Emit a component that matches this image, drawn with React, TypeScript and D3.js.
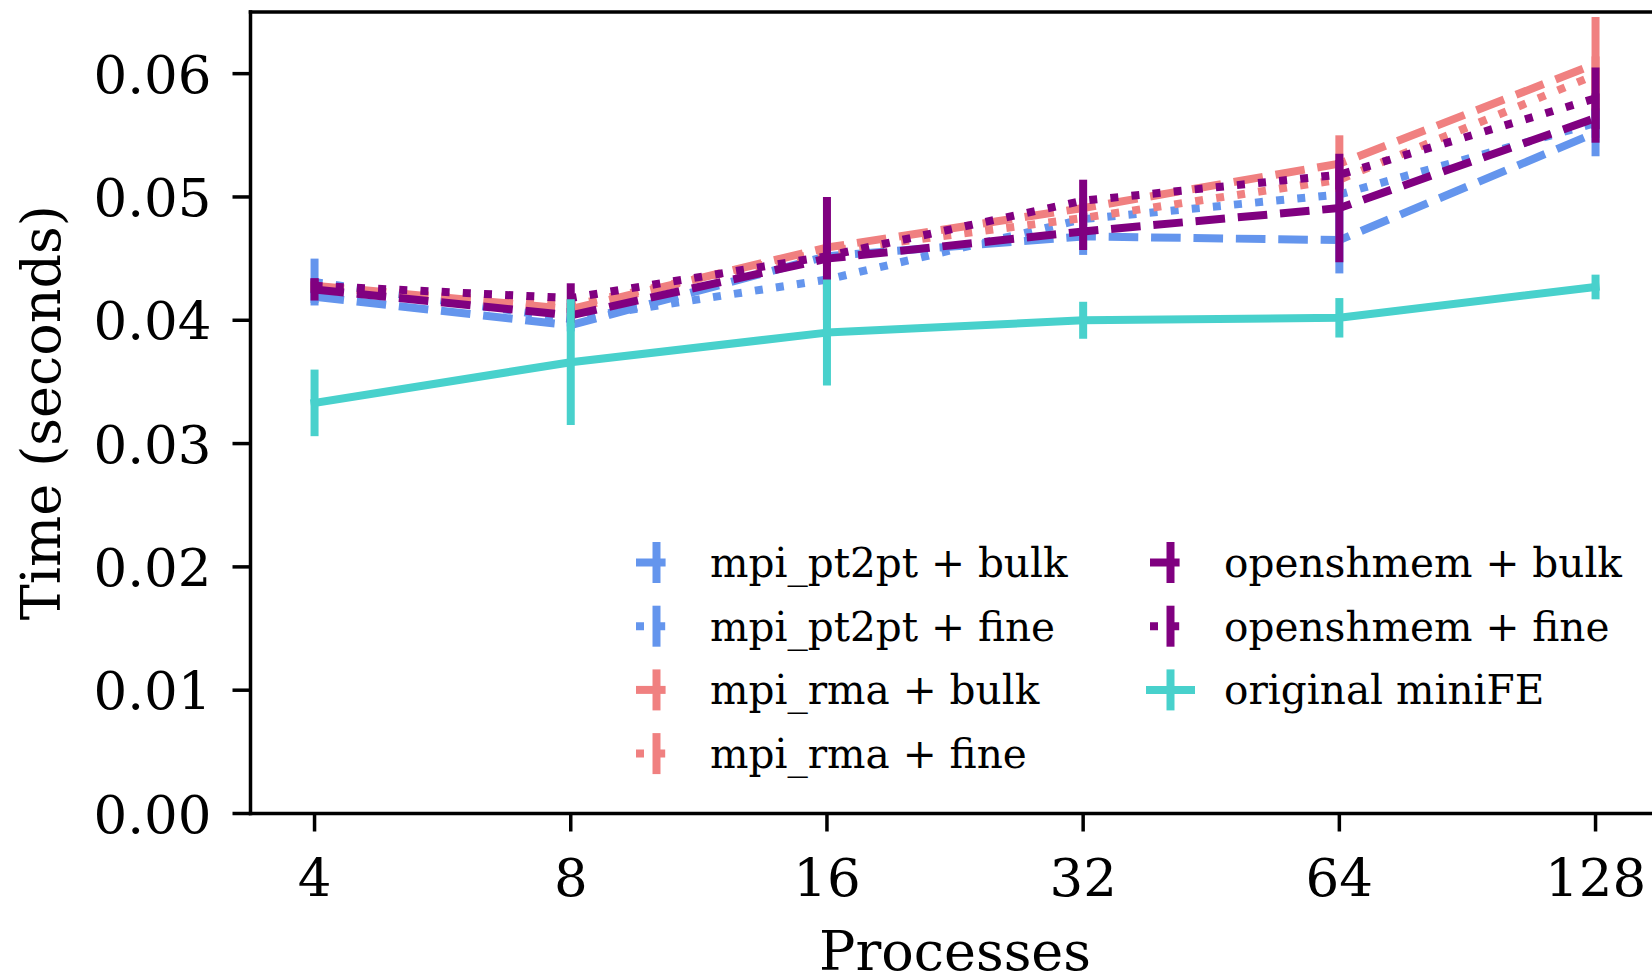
import React from 'react';
import * as d3 from 'd3';

const procs = [4, 8, 16, 32, 64, 128];

const pt2ptBulk = [0.0419, 0.0396, 0.0452, 0.0468, 0.0465, 0.0552];
const pt2ptBulkErr = [0.0005, 0.0005, 0.0007, 0.0015, 0.0027, 0.0019];
const pt2ptFine = [0.0431, 0.0401, 0.0433, 0.0482, 0.0502, 0.056];
const pt2ptFineErr = [0.0019, 0.0006, 0.0008, 0.0006, 0.001, 0.0012];
const rmaBulk = [0.0428, 0.0409, 0.0459, 0.0491, 0.0527, 0.0608];
const rmaBulkErr = [0.0004, 0.0005, 0.0006, 0.0008, 0.0023, 0.0038];
const rmaFine = [0.0427, 0.0412, 0.0456, 0.0483, 0.0514, 0.0599];
const rmaFineErr = [0.0004, 0.0005, 0.0006, 0.0006, 0.0008, 0.0015];
const shmemBulk = [0.0425, 0.0404, 0.045, 0.0472, 0.0491, 0.0564];
const shmemBulkErr = [0.0009, 0.0006, 0.005, 0.0015, 0.0044, 0.002];
const shmemFine = [0.0428, 0.0418, 0.0452, 0.0497, 0.0518, 0.058];
const shmemFineErr = [0.0006, 0.0012, 0.0008, 0.0017, 0.0012, 0.0025];
const original = [0.0333, 0.0366, 0.039, 0.04, 0.0402, 0.0427];
const originalErr = [0.0027, 0.0051, 0.0043, 0.0015, 0.0016, 0.001];

const yTicks = [0, 0.01, 0.02, 0.03, 0.04, 0.05, 0.06];

const series = [
  { label: 'mpi_pt2pt + bulk', values: pt2ptBulk, errs: pt2ptBulkErr, color: 'cornflowerblue', style: 'dashed' },
  { label: 'mpi_pt2pt + fine', values: pt2ptFine, errs: pt2ptFineErr, color: 'cornflowerblue', style: 'dotted' },
  { label: 'mpi_rma + bulk', values: rmaBulk, errs: rmaBulkErr, color: 'lightcoral', style: 'dashed' },
  { label: 'mpi_rma + fine', values: rmaFine, errs: rmaFineErr, color: 'lightcoral', style: 'dotted' },
  { label: 'openshmem + bulk', values: shmemBulk, errs: shmemBulkErr, color: 'purple', style: 'dashed' },
  { label: 'openshmem + fine', values: shmemFine, errs: shmemFineErr, color: 'purple', style: 'dotted' },
  { label: 'original miniFE', values: original, errs: originalErr, color: 'mediumturquoise', style: 'solid' },
];

const W = 1652;
const H = 974;
const LW = 8;
const FONT = '"DejaVu Serif", serif';

const dashFor = (s) =>
  s === 'dashed' ? `${3.7 * LW} ${1.6 * LW}` : s === 'dotted' ? `${LW} ${1.65 * LW}` : undefined;

export default function App() {
  const plotLeft = 250.5;
  const plotTop = 12;
  const plotBottom = 813.5;
  const octave = 256.2;

  // log2 x axis with a quarter-octave margin on each side
  const x = d3
    .scaleLog()
    .base(2)
    .domain([Math.pow(2, 1.75), Math.pow(2, 7.25)])
    .range([plotLeft, plotLeft + 5.5 * octave]);
  const y = d3.scaleLinear().domain([0, 0.065]).range([plotBottom, plotTop]);

  const line = d3
    .line<number>()
    .x((_, i) => x(procs[i]))
    .y((d) => y(d));

  // legend layout
  const colX = [636, 1150];
  const rowY0 = 562.5;
  const rowStep = 63.7;
  const handleLen = 41;

  return (
    <svg
      width={W}
      height={H}
      style={{ position: 'absolute', left: 0, top: 0, background: '#fff' }}
      fontFamily={FONT}
    >
      <rect width={W} height={H} fill="#fff" />

      {series.map((s) => (
        <g key={s.label}>
          <path
            d={line(s.values)}
            fill="none"
            stroke={s.color}
            strokeWidth={LW}
            strokeDasharray={dashFor(s.style)}
            strokeLinecap={s.style === 'solid' ? 'square' : 'butt'}
            strokeLinejoin="round"
          />
          {s.values.map((v, i) => (
            <line
              key={i}
              x1={x(procs[i])}
              x2={x(procs[i])}
              y1={y(v - s.errs[i])}
              y2={y(v + s.errs[i])}
              stroke={s.color}
              strokeWidth={LW}
            />
          ))}
        </g>
      ))}

      {/* spines */}
      <line x1={plotLeft} x2={plotLeft} y1={plotTop} y2={plotBottom} stroke="#000" strokeWidth={3.5} strokeLinecap="square" />
      <line x1={plotLeft} x2={W} y1={plotTop} y2={plotTop} stroke="#000" strokeWidth={3.5} strokeLinecap="square" />
      <line x1={plotLeft} x2={W} y1={plotBottom} y2={plotBottom} stroke="#000" strokeWidth={3.5} strokeLinecap="square" />

      {/* y axis */}
      {yTicks.map((t) => (
        <g key={t}>
          <line x1={plotLeft - 18} x2={plotLeft} y1={y(t)} y2={y(t)} stroke="#000" strokeWidth={3.5} />
          <text x={plotLeft - 39} y={y(t) + 19} textAnchor="end" fontSize={53} fill="#000">
            {t.toFixed(2)}
          </text>
        </g>
      ))}
      <text
        transform={`translate(60, ${(plotTop + plotBottom) / 2}) rotate(-90)`}
        textAnchor="middle"
        fontSize={54}
        fill="#000"
      >
        Time (seconds)
      </text>

      {/* x axis */}
      {procs.map((p) => (
        <g key={p}>
          <line x1={x(p)} x2={x(p)} y1={plotBottom} y2={plotBottom + 18} stroke="#000" strokeWidth={3.5} />
          <text x={x(p)} y={896} textAnchor="middle" fontSize={53} fill="#000">
            {p}
          </text>
        </g>
      ))}
      <text x={(plotLeft + plotLeft + 5.5 * octave) / 2} y={970} textAnchor="middle" fontSize={54} fill="#000">
        Processes
      </text>

      {/* legend */}
      {series.map((s, i) => {
        const col = i < 4 ? 0 : 1;
        const row = i < 4 ? i : i - 4;
        const hx = colX[col];
        const hy = rowY0 + row * rowStep;
        const mid = hx + handleLen / 2;
        return (
          <g key={s.label}>
            <line
              x1={hx}
              x2={hx + handleLen}
              y1={hy}
              y2={hy}
              stroke={s.color}
              strokeWidth={LW}
              strokeDasharray={dashFor(s.style)}
              strokeLinecap={s.style === 'solid' ? 'square' : 'butt'}
            />
            <line x1={mid} x2={mid} y1={hy - 20.5} y2={hy + 20.5} stroke={s.color} strokeWidth={LW} />
            <text x={mid + 53.5} y={hy + 14.5} fontSize={40.6} fill="#000">
              {s.label}
            </text>
          </g>
        );
      })}
    </svg>
  );
}
